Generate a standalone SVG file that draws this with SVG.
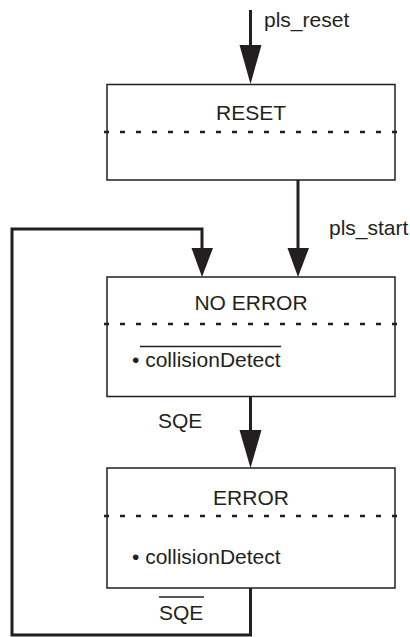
<svg xmlns="http://www.w3.org/2000/svg" width="410" height="637" viewBox="0 0 410 637">
  <style>
    text { font-family: "Liberation Sans", Arial, sans-serif; font-size: 21px; fill: #231f20; }
    .mid { text-anchor: middle; }
    .box { fill: #ffffff; stroke: #231f20; stroke-width: 1.5; }
    .sep { stroke: #231f20; stroke-width: 2.5; stroke-dasharray: 5 11; }
    .wire { fill: none; stroke: #231f20; stroke-width: 3; }
    .head { fill: #231f20; }
    .bar { stroke: #231f20; stroke-width: 1.3; }
  </style>

  <!-- transitions -->
  <g id="connectors">
    <!-- entry into RESET -->
    <line class="wire" x1="250.5" y1="10" x2="250.5" y2="50"/>
    <polygon class="head" points="239.5,45 261.5,45 250.5,84"/>
    <text x="264" y="27">pls_reset</text>

    <!-- RESET to NO ERROR -->
    <line class="wire" x1="298" y1="180" x2="298" y2="252"/>
    <polygon class="head" points="287.5,248 309,248 298,277"/>
    <text x="329" y="235">pls_start</text>

    <!-- NO ERROR to ERROR -->
    <line class="wire" x1="250.5" y1="396" x2="250.5" y2="434"/>
    <polygon class="head" points="239.5,430 261.5,430 250.5,468"/>
    <text x="158" y="428">SQE</text>

    <!-- ERROR back to NO ERROR -->
    <polyline class="wire" points="250.5,588 250.5,635 12,635 12,229 202,229 202,252"/>
    <polygon class="head" points="191.5,248 213,248 202,277"/>
    <text x="159" y="620">SQE</text>
    <line class="bar" x1="159" y1="597" x2="204" y2="597"/>
  </g>

  <g id="reset">
    <rect class="box" x="107" y="84.5" width="288" height="95.5"/>
    <text class="mid" x="251" y="119.5">RESET</text>
    <line class="sep" x1="104" y1="132" x2="397" y2="132"/>
  </g>

  <g id="no-error">
    <rect class="box" x="107" y="277" width="288" height="119.5"/>
    <text class="mid" x="251" y="310">NO ERROR</text>
    <line class="sep" x1="104" y1="324" x2="397" y2="324"/>
    <text x="132" y="366.5">• collisionDetect</text>
    <line class="bar" x1="140" y1="346.5" x2="281" y2="346.5"/>
  </g>

  <g id="error">
    <rect class="box" x="107" y="468" width="288" height="120"/>
    <text class="mid" x="251" y="505">ERROR</text>
    <line class="sep" x1="104" y1="516" x2="397" y2="516"/>
    <text x="132" y="564">• collisionDetect</text>
  </g>
</svg>
